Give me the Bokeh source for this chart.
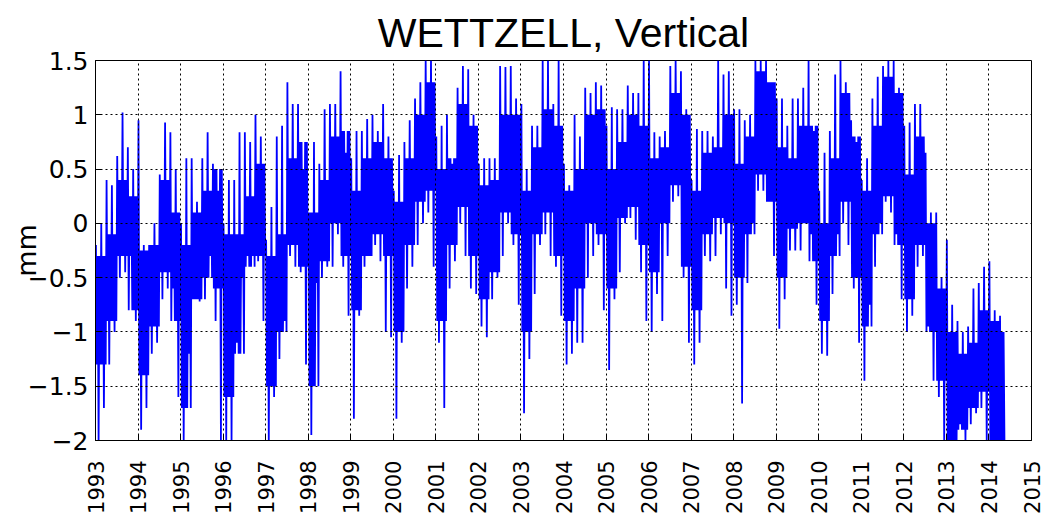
import math
from bokeh.plotting import figure
from bokeh.models import FixedTicker, Range1d, ColumnDataSource
from bokeh.embed import file_html
from bokeh.resources import INLINE

# ---- data ----
# extreme envelope (spikes) per 1/8-year bin, starting 1993.0
bin_start = 1993.0
bin_step = 0.125
upper = [
    -0.2, 0.0, 0.4, 0.35, 0.62, 1.02, 0.7, 0.5,
    0.95, -0.2, -0.2, 0.0, 0.45, 0.93, 0.84, 0.5,
    0.0, 0.6, 0.6, 0.2, 0.6, 0.84, 0.55, 0.3,
    0.0, 0.4, 0.4, 0.84, 0.84, 0.75, 1.0, 0.8,
    -0.15, 0.15, 0.8, 0.9, 1.3, 1.1, 1.1, 0.5,
    0.1, 0.75, 0.55, 1.05, 1.1, 1.1, 1.4, 0.65,
    0.6, 0.85, 0.85, 0.96, 1.0, 0.85, 1.1, 0.8,
    0.3, 0.63, 0.75, 0.95, 1.15, 1.3, 1.5, 1.5,
    0.8, 0.9, 1.0, 0.55, 1.25, 1.45, 1.42, 1.0,
    0.55, 0.6, 0.6, 0.6, 1.45, 1.44, 1.45, 1.15,
    1.1, 0.5, 0.9, 0.9, 1.5, 1.5, 1.1, 1.5,
    0.55, 0.35, 1.0, 0.8, 1.25, 1.2, 1.3, 1.27,
    0.9, 1.07, 1.05, 1.05, 1.27, 1.2, 1.2, 1.5,
    1.5, 0.84, 0.8, 0.85, 1.45, 1.5, 1.4, 1.05,
    0.4, 0.87, 0.85, 0.85, 0.8, 1.5, 1.37, 1.4,
    1.05, 1.05, 0.95, 1.0, 1.5, 1.5, 1.5, 1.3,
    1.15, 1.15, 0.9, 1.15, 1.15, 1.25, 1.5, 0.85,
    0.3, 0.65, 0.85, 1.37, 1.5, 1.3, 0.95, 0.75,
    0.4, 0.6, 1.15, 1.35, 1.45, 1.5, 1.5, 1.25,
    0.9, 0.93, 1.1, 1.1, 0.65, 0.1, 0.1, -0.5,
    -0.15, -0.75, -0.9, -1.0, -0.95, -0.6, -0.55, -0.4,
    -0.35, -0.8, -0.85,
]
lower = [
    -2.0, -1.7, -1.3, -1.0, -0.5, -0.45, -0.3, -0.9,
    -1.9, -1.7, -1.2, -1.1, -0.7, -0.6, -0.6, -1.6,
    -2.0, -1.2, -0.7, -0.72, -0.7, -0.3, -0.9, -2.0,
    -2.0, -2.0, -1.1, -0.5, -0.3, -0.3, -0.35, -0.9,
    -2.0, -1.6, -1.25, -0.9, -0.3, -0.4, -0.45, -1.3,
    -1.95, -0.55, -0.5, -0.4, -0.4, -0.1, -0.4, -0.85,
    -1.8, -0.85, -0.4, -0.3, -0.2, -0.35, -1.0, -1.05,
    -1.8, -1.1, -0.6, -0.4, -0.2, 0.0, 0.1, -0.4,
    -1.1, -1.7, -0.6, -0.35, 0.0, -0.3, -0.6, -0.65,
    -0.95, -1.05, -0.7, -0.5, -0.3, 0.0, -0.2, -0.75,
    -1.75, -1.25, -0.65, -0.2, -0.1, -0.3, -0.4, -0.85,
    -1.3, -1.2, -1.1, -1.1, -0.5, -0.3, -0.2, -0.8,
    -1.35, -0.7, -0.45, 0.0, 0.05, -0.15, -0.45, -0.9,
    -1.0, -0.65, -0.9, -0.3, 0.2, 0.25, -0.5, -1.1,
    -1.3, -1.1, -0.3, -0.35, -0.3, -0.1, -0.6, -0.85,
    -0.75, -1.66, -0.55, 0.0, 0.3, 0.3, 0.2, -0.3,
    -0.97, -0.7, -0.25, -0.25, -0.25, 0.0, -0.1, -0.75,
    -1.2, -1.22, -0.65, -0.1, 0.0, -0.2, -0.6, -1.1,
    -1.45, -0.75, -0.4, 0.0, 0.2, 0.1, -0.1, -0.7,
    -1.0, -0.85, -0.4, -0.3, -0.95, -1.45, -1.6, -2.0,
    -2.0, -2.0, -1.85, -2.0, -1.85, -1.75, -1.7, -2.0,
    -2.0, -2.0, -2.0,
]

# dense core band per quarter year, starting 1993.0
core_upper = [
    -0.3, -0.1, 0.4, 0.25,
    -0.25, -0.2, 0.4, 0.1,
    -0.2, 0.1, 0.3, 0.5,
    -0.1, -0.1, 0.25, 0.55,
    -0.3, -0.1, 0.6, 0.75,
    0.1, 0.4, 0.8, 0.85,
    0.3, 0.6, 0.75, 0.6,
    0.2, 0.6, 1.0, 1.3,
    0.5, 0.6, 1.1, 0.9,
    0.35, 0.4, 1.0, 1.0,
    0.3, 0.7, 1.05, 0.9,
    0.3, 0.5, 1.0, 1.05,
    0.5, 0.75, 1.0, 0.9,
    0.6, 0.7, 1.2, 1.0,
    0.3, 0.65, 0.7, 1.0,
    0.55, 0.8, 1.4, 1.3,
    0.7, 0.6, 0.9, 0.9,
    0.0, 0.6, 1.2, 0.8,
    0.3, 0.9, 1.35, 1.2,
    0.45, 0.8, 0.0, -0.6,
    -1.0, -1.2, -1.1, -0.8,
    -0.9, -1.0,
]
core_lower = [
    -1.3, -0.9, -0.3, -0.8,
    -1.4, -0.95, -0.45, -0.9,
    -1.7, -0.7, -0.5, -0.6,
    -1.6, -1.2, -0.4, -0.3,
    -1.5, -1.0, -0.2, -0.4,
    -1.5, -0.35, 0.0, -0.3,
    -0.8, -0.3, -0.1, -0.3,
    -1.0, -0.2, 0.2, 0.3,
    -0.9, -0.2, 0.15, -0.3,
    -0.7, -0.45, 0.1, -0.1,
    -1.0, -0.1, 0.1, -0.3,
    -0.9, -0.6, 0.0, -0.1,
    -0.6, 0.05, 0.15, -0.2,
    -0.45, 0.0, 0.35, -0.4,
    -0.8, -0.1, 0.05, 0.0,
    -0.5, -0.1, 0.45, 0.2,
    -0.5, -0.05, 0.0, -0.35,
    -0.9, -0.3, 0.2, -0.5,
    -0.95, -0.1, 0.25, -0.2,
    -0.7, -0.2, -1.0, -1.45,
    -2.0, -1.9, -1.7, -1.55,
    -2.0, -2.0,
]

x_ticks = list(range(1993, 2016))
x_tick_labels = [str(y) for y in x_ticks]
y_ticks = [-2, -1.5, -1, -0.5, 0, 0.5, 1, 1.5]
y_tick_labels = ["\u22122", "\u22121.5", "\u22121", "\u22120.5", "0", "0.5", "1", "1.5"]

title_text = "WETTZELL, Vertical"
y_label_text = "mm"

# ---- series: within each 1/8-year bin the trace runs through the
#      spike extremes and the dense core band read for that bin ----
xs, ys = [], []
for k, (h, l) in enumerate(zip(upper, lower)):
    t = bin_start + k * bin_step
    ch, cl = core_upper[k // 2], core_lower[k // 2]
    seq = [h, cl, ch, l, ch, cl]
    for i, v in enumerate(seq):
        xs.append(t + bin_step * (i + 0.5) / len(seq))
        ys.append(v)
series = ColumnDataSource(data=dict(x=xs, y=ys))

LAB_FONT = "Liberation Sans"
TICK_FONT = "DejaVu Sans"
BLUE = "#0000ff"

p = figure(
    frame_width=936, frame_height=380,
    x_range=Range1d(1993, 2015), y_range=Range1d(-2, 1.5),
    output_backend="svg", toolbar_location=None,
    min_border_left=95, min_border_right=12, min_border_top=60, min_border_bottom=0,
    title=title_text,
)
p.background_fill_color = "white"
p.border_fill_color = "white"
p.outline_line_color = "black"
p.outline_line_width = 1

p.title.text_font = LAB_FONT
p.title.text_font_size = "41px"
p.title.text_font_style = "normal"
p.title.align = "center"
p.title.text_color = "black"

p.line("x", "y", source=series, line_color=BLUE, line_width=1.8)

# axes
p.xaxis.ticker = FixedTicker(ticks=x_ticks)
p.xaxis.major_label_overrides = {t: s for t, s in zip(x_ticks, x_tick_labels)}
p.xaxis.major_label_orientation = math.pi / 2
p.yaxis.ticker = FixedTicker(ticks=y_ticks)
p.yaxis.major_label_overrides = {t: s for t, s in zip(y_ticks, y_tick_labels)}
for ax in (p.xaxis[0], p.yaxis[0]):
    ax.major_label_text_font = TICK_FONT
    ax.major_label_text_color = "black"
    ax.major_tick_in = 6
    ax.major_tick_out = 0
    ax.minor_tick_line_color = None
    ax.axis_line_color = "black"
    ax.major_tick_line_color = "black"
p.xaxis.major_label_text_font_size = "21px"
p.xaxis.major_label_standoff = 20
p.yaxis.major_label_text_font_size = "25px"
p.yaxis.major_label_standoff = 7
p.yaxis.axis_label = y_label_text
p.yaxis.axis_label_text_font = TICK_FONT
p.yaxis.axis_label_text_font_size = "27px"
p.yaxis.axis_label_text_font_style = "normal"
p.yaxis.axis_label_text_color = "black"
p.yaxis.axis_label_standoff = -17

# dotted grid drawn above the data like the reference
for g in (p.xgrid[0], p.ygrid[0]):
    g.grid_line_color = "black"
    g.grid_line_dash = "2 3"
    g.grid_line_width = 1
    g.level = "overlay"
p.xgrid.ticker = FixedTicker(ticks=x_ticks)
p.ygrid.ticker = FixedTicker(ticks=y_ticks)

open("out.html", "w").write(file_html(p, INLINE))
